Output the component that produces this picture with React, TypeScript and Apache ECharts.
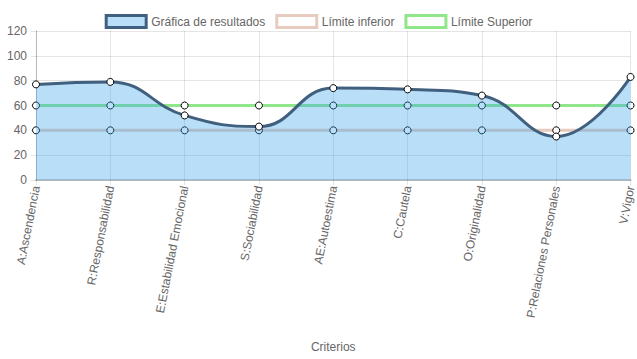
import React, { useEffect, useRef } from "react";
import * as echarts from "echarts";

const categories = [
  "A:Ascendencia",
  "R:Responsabilidad",
  "E:Estabilidad Emocional",
  "S:Sociabilidad",
  "AE:Autoestima",
  "C:Cautela",
  "O:Originalidad",
  "P:Relaciones Personales",
  "V:Vigor",
];
const resultados = [77, 79, 52, 43, 74, 73, 68, 35, 83];
const limiteInferior = [40, 40, 40, 40, 40, 40, 40, 40, 40];
const limiteSuperior = [60, 60, 60, 60, 60, 60, 60, 60, 60];

const FONT = "'Liberation Sans', Arial, Helvetica, sans-serif";

export default function App() {
  const ref = useRef<HTMLDivElement>(null);
  useEffect(() => {
    if (!ref.current) return;
    const chart = echarts.init(ref.current, undefined, { renderer: "svg" });
    const pointStyle = { color: "#ffffff", borderColor: "#000000", borderWidth: 1 };
    chart.setOption({
      animation: false,
      textStyle: { fontFamily: FONT },
      legend: {
        top: 9,
        left: "center",
        itemWidth: 40,
        itemHeight: 12,
        itemGap: 10,
        icon: "rect",
        textStyle: { color: "#666", fontSize: 12, fontFamily: FONT },
        data: [
          { name: "Gráfica de resultados", itemStyle: { color: "rgba(54,162,235,0.35)", borderColor: "#41607f", borderWidth: 3 } },
          { name: "Límite inferior", itemStyle: { color: "#ffffff", borderColor: "#e8cbbf", borderWidth: 3 } },
          { name: "Límite Superior", itemStyle: { color: "#ffffff", borderColor: "#90e68a", borderWidth: 3 } },
        ],
      },
      grid: { left: 36, right: 4, top: 31, bottom: 179, containLabel: false },
      xAxis: {
        type: "category",
        data: categories,
        boundaryGap: false,
        name: "Criterios",
        nameLocation: "middle",
        nameGap: 161,
        nameTextStyle: { color: "#666", fontSize: 12, fontFamily: FONT },
        axisLine: { show: true, lineStyle: { color: "rgba(0,0,0,0.2)", width: 2 } },
        axisTick: { show: true, length: 5, alignWithLabel: true, lineStyle: { color: "rgba(0,0,0,0.1)" } },
        splitLine: { show: true, lineStyle: { color: "rgba(0,0,0,0.1)" } },
        axisLabel: { rotate: 79, color: "#666", fontSize: 12, fontFamily: FONT, margin: 6, interval: 0 },
      },
      yAxis: {
        type: "value",
        min: 0,
        max: 120,
        interval: 20,
        axisLine: { show: true, lineStyle: { color: "rgba(0,0,0,0.2)" } },
        axisTick: { show: true, length: 5, lineStyle: { color: "rgba(0,0,0,0.1)" } },
        splitLine: { show: true, lineStyle: { color: "rgba(0,0,0,0.1)" } },
        axisLabel: { color: "#666", fontSize: 12, fontFamily: FONT, margin: 9 },
      },
      series: [
        {
          name: "Límite inferior",
          type: "line",
          data: limiteInferior,
          z: 2,
          symbol: "circle",
          symbolSize: 7,
          itemStyle: pointStyle,
          lineStyle: { color: "#e8cbbf", width: 3 },
        },
        {
          name: "Límite Superior",
          type: "line",
          data: limiteSuperior,
          z: 2,
          symbol: "circle",
          symbolSize: 7,
          itemStyle: pointStyle,
          lineStyle: { color: "#90e68a", width: 3 },
        },
        {
          name: "Gráfica de resultados",
          type: "line",
          data: resultados,
          smooth: 0.45,
          z: 5,
          symbol: "circle",
          symbolSize: 7,
          itemStyle: pointStyle,
          lineStyle: { color: "#41607f", width: 3 },
          areaStyle: { color: "rgba(54,162,235,0.35)", opacity: 1, origin: "start" },
        },
      ],
    });
    return () => chart.dispose();
  }, []);
  return <div ref={ref} style={{ width: 637, height: 359, position: "absolute", left: 0, top: 0 }} />;
}
